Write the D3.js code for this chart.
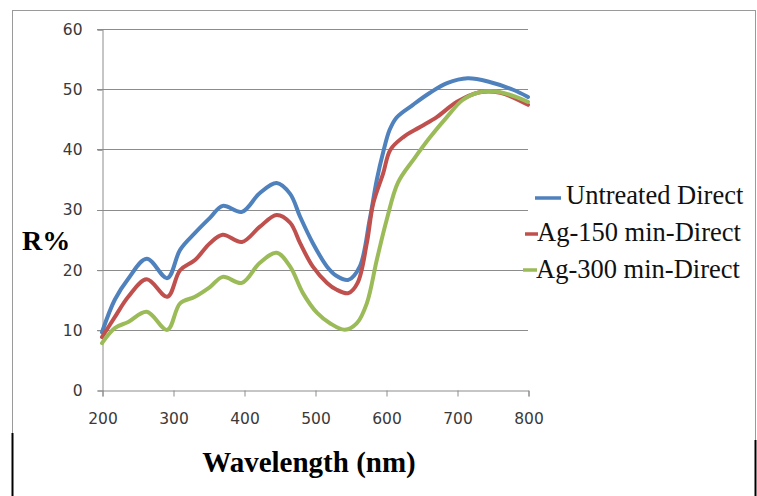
<!DOCTYPE html>
<html>
<head>
<meta charset="utf-8">
<script src="https://cdn.jsdelivr.net/npm/d3@7"></script>
<style>
  html, body { margin: 0; padding: 0; background: #fff; }
  svg { display: block; }
</style>
</head>
<body>
<div id="chart"></div>
<script>
// reflectance spectra, [wavelength nm, R%]
const untreated = [[200,9.6],[218,15],[237,18.5],[263,21.8],[292,18.6],[310,23.3],[331,26.1],[352,28.6],[370,30.6],[397,29.6],[422,32.7],[446,34.4],[465,32.6],[479,28.8],[497,24.4],[517,20.5],[530,19],[547,18.3],[563,20.5],[577,28.3],[587,34.9],[596,39.5],[605,43.2],[615,45.3],[638,47.4],[662,49.4],[686,51],[715,51.8],[746,51.2],[779,49.9],[800,48.7]];
const ag150 = [[200,8.8],[218,12.1],[237,15.5],[263,18.4],[292,15.5],[310,19.9],[331,21.6],[352,24.4],[370,25.8],[397,24.6],[422,27.1],[446,29.1],[465,27.8],[479,24.4],[497,20.5],[517,17.8],[530,16.7],[547,16.1],[560,17.8],[573,24.4],[582,31],[596,36],[606,39.9],[624,42],[648,43.7],[672,45.4],[700,47.9],[732,49.5],[761,49.4],[800,47.4]];
const ag300 = [[200,7.8],[218,10.3],[237,11.3],[263,13],[292,10],[310,14.4],[331,15.5],[352,17.1],[370,18.8],[397,17.8],[422,21.1],[446,22.8],[465,20.5],[483,16.1],[503,12.8],[521,11.1],[542,10],[559,11.1],[573,14.4],[587,21.6],[601,28.3],[617,34.5],[640,38.5],[662,42],[686,45.4],[708,48.2],[732,49.5],[761,49.5],[800,47.9]];

const seriesNames = ["Untreated Direct", "Ag-150 min-Direct", "Ag-300 min-Direct"];
const seriesColours = ["#4F81BD", "#C0504D", "#9BBB59"];
const xTicks = [200, 300, 400, 500, 600, 700, 800];
const yTicks = [0, 10, 20, 30, 40, 50, 60];

const svgWidth = 757, svgHeight = 496;
const plot = {left: 102, right: 528, top: 29, bottom: 390};

const svg = d3.select("#chart").append("svg")
    .attr("width", svgWidth)
    .attr("height", svgHeight);

// outer frame
svg.append("rect")
    .attr("x", 12.5).attr("y", 10.5)
    .attr("width", 743).attr("height", 500)
    .attr("fill", "#fff")
    .attr("stroke", "#9a9a9a");
svg.append("line").attr("x1", 12.5).attr("x2", 12.5).attr("y1", 433).attr("y2", 496)
    .attr("stroke", "#000").attr("stroke-width", 2);
svg.append("line").attr("x1", 755.5).attr("x2", 755.5).attr("y1", 440).attr("y2", 496)
    .attr("stroke", "#000").attr("stroke-width", 2);

const xscale = d3.scaleLinear()
    .domain([200, 800])
    .range([plot.left, plot.right]);

const yscale = d3.scaleLinear()
    .domain([0, 60])
    .range([plot.bottom, plot.top]);

// gridlines
svg.append("g").attr("class", "grid")
    .selectAll("line")
    .data(yTicks.filter(d => d > 0))
    .join("line")
        .attr("x1", plot.left - 5)
        .attr("x2", plot.right)
        .attr("y1", d => Math.round(yscale(d)) + 0.5)
        .attr("y2", d => Math.round(yscale(d)) + 0.5)
        .attr("stroke", "#8c8c8c");

const yAxis = d3.axisLeft(yscale).tickValues(yTicks).tickSize(5).tickPadding(15);
const xAxis = d3.axisBottom(xscale).tickValues(xTicks).tickSize(6).tickPadding(16);

const gY = svg.append("g")
    .attr("class", "axis-y")
    .attr("transform", `translate(${plot.left + 0.5},0.5)`)
    .call(yAxis);

const gX = svg.append("g")
    .attr("class", "axis-x")
    .attr("transform", `translate(0.5,${plot.bottom + 0.5})`)
    .call(xAxis);

[gX, gY].forEach(g => {
    g.select(".domain").attr("stroke", "#8c8c8c");
    g.selectAll(".tick line").attr("stroke", "#8c8c8c");
    g.selectAll(".tick text")
        .attr("fill", "#3a3a3a")
        .style("font-family", "'DejaVu Sans', sans-serif")
        .style("font-size", "15.5px");
});

const line = d3.line()
    .x(d => xscale(d[0]))
    .y(d => yscale(d[1]))
    .curve(d3.curveCatmullRom.alpha(0.5));

const allSeries = [untreated, ag150, ag300];

svg.append("g").attr("class", "lines")
    .selectAll("path")
    .data(allSeries)
    .join("path")
        .attr("fill", "none")
        .attr("stroke", (d, i) => seriesColours[i])
        .attr("stroke-width", 4)
        .attr("stroke-linejoin", "round")
        .attr("stroke-linecap", "round")
        .attr("d", line);

// axis titles
svg.append("text")
    .attr("x", 22).attr("y", 250)
    .style("font-family", "'Liberation Serif', 'Times New Roman', serif")
    .style("font-weight", "bold")
    .style("font-size", "28px")
    .attr("fill", "#000")
    .text("R%");

svg.append("text")
    .attr("x", 309).attr("y", 472)
    .attr("text-anchor", "middle")
    .style("font-family", "'Liberation Serif', 'Times New Roman', serif")
    .style("font-weight", "bold")
    .style("font-size", "29px")
    .attr("fill", "#000")
    .text("Wavelength (nm)");

// legend
const legendKeys = [
    {x1: 535, x2: 561, y: 198},
    {x1: 525, x2: 538, y: 234},
    {x1: 523, x2: 537, y: 270}
];
const legendText = [
    {x: 566, y: 204},
    {x: 537, y: 241},
    {x: 536, y: 278}
];

const legend = svg.append("g").attr("class", "legend");

legend.selectAll("line")
    .data(legendKeys)
    .join("line")
        .attr("x1", d => d.x1)
        .attr("x2", d => d.x2)
        .attr("y1", d => d.y)
        .attr("y2", d => d.y)
        .attr("stroke", (d, i) => seriesColours[i])
        .attr("stroke-width", 3.5);

legend.selectAll("text")
    .data(legendText)
    .join("text")
        .attr("x", d => d.x)
        .attr("y", d => d.y)
        .style("font-family", "'Liberation Serif', 'Times New Roman', serif")
        .style("font-size", "26.5px")
        .attr("fill", "#111")
        .text((d, i) => seriesNames[i]);
</script>
</body>
</html>
